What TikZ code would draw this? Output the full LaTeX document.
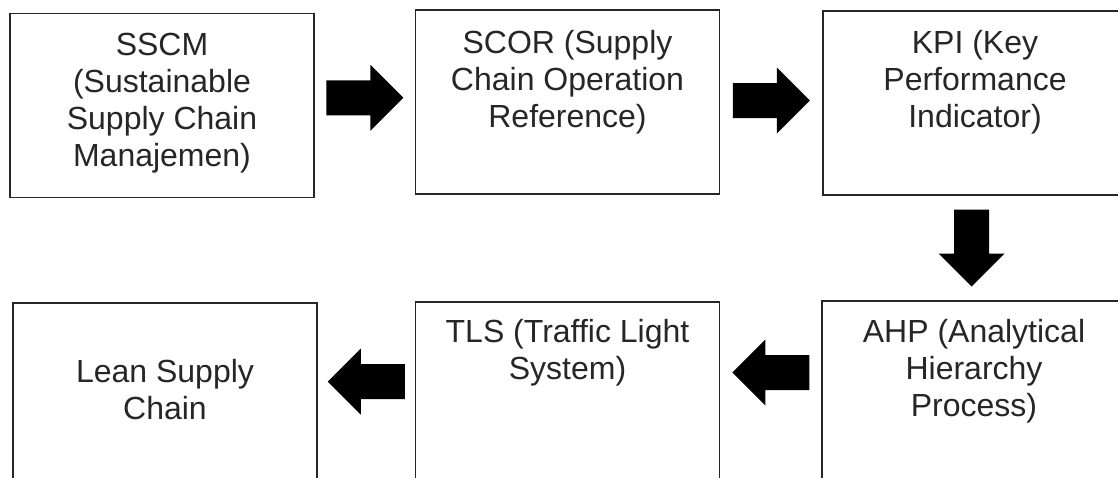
\documentclass[tikz,border=0pt]{standalone}
\usepackage{fontspec}
\setmainfont{Liberation Sans}
\usetikzlibrary{positioning,calc}

\tikzset{
  box/.style={draw=black!85, line width=1.3pt, minimum width=304pt, minimum height=184pt, inner sep=0pt},
  boxtext/.style={align=center, inner sep=0pt, text=black!85, font=\fontsize{32}{37}\selectfont},
  blockarrow/.pic={
    \fill[black] (-38.5,-17.5) -- (5.5,-17.5) -- (5.5,-33) -- (38.5,0)
                 -- (5.5,33) -- (5.5,17.5) -- (-38.5,17.5) -- cycle;
  }
}

\begin{document}
\begin{tikzpicture}[x=1pt, y=-1pt]
    \useasboundingbox (0,0) rectangle (1118,477);
    \clip (0,0) rectangle (1118,477);

    % Top row
    \node[box] (sscm) at (162,105.5) {};
    \node[box] (scor) at (567.5,102) {};
    \node[box] (kpi) at (975,103) {};

    % Bottom row
    \node[box] (lean) at (165,395) {};
    \node[box] (tls) at (567.5,394) {};
    \node[box] (ahp) at (974,393) {};

    % Texts
    \node[boxtext, anchor=north, below=20pt of sscm.north] (sscmtxt) {SSCM\\(Sustainable\\Supply Chain\\Manajemen)};
    \node[boxtext, anchor=north, below=21pt of scor.north] (scortxt) {SCOR (Supply\\Chain Operation\\Reference)};
    \node[boxtext, anchor=north, below=20pt of kpi.north] (kpitxt) {KPI (Key\\Performance\\Indicator)};
    \node[boxtext, anchor=north, below=19pt of ahp.north] (ahptxt) {AHP (Analytical\\Hierarchy\\Process)};
    \node[boxtext, anchor=north, below=18pt of tls.north] (tlstxt) {TLS (Traffic Light\\System)};
    \node[boxtext, anchor=north, below=57pt of lean.north] (leantxt) {Lean Supply\\Chain};

    % Arrows between the boxes
    \coordinate (a1) at ($(sscm.east)!0.5!(scor.west) + (0,-6)$);
    \coordinate (a2) at ($(scor.east)!0.5!(kpi.west) + (0,-2)$);
    \coordinate (a3) at ($(kpi.south)!0.5!(ahp.north) + (-3,0)$);
    \coordinate (a4) at ($(ahp.west)!0.5!(tls.east) + (0,-21)$);
    \coordinate (a5) at ($(tls.west)!0.5!(lean.east) + (0,-13)$);

    \pic at (a1) {blockarrow};
    \pic at (a2) {blockarrow};
    \pic[rotate=-90] at (a3) {blockarrow};
    \pic[rotate=180] at (a4) {blockarrow};
    \pic[rotate=180] at (a5) {blockarrow};
\end{tikzpicture}
\end{document}
